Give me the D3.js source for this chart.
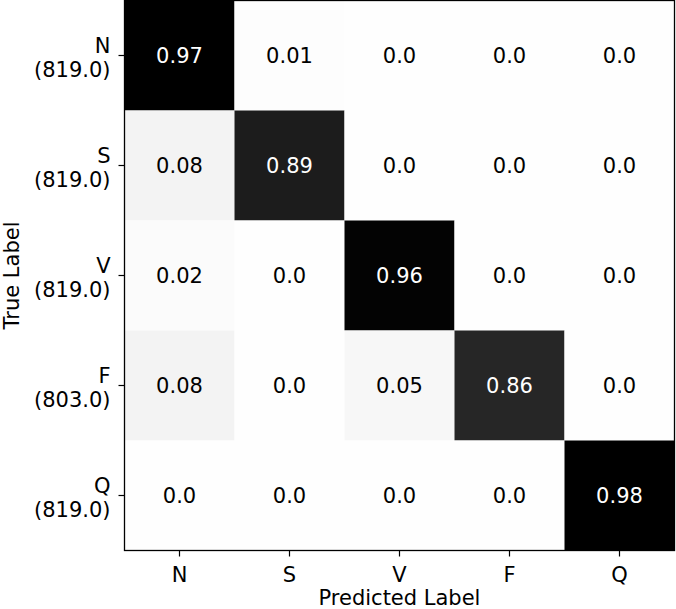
<!DOCTYPE html>
<html>
<head>
<meta charset="utf-8">
<script src="https://cdn.jsdelivr.net/npm/d3@7"></script>
<style>
  body { margin: 0; background: #fff; }
  svg { display: block; }
  svg text { font-family: "DejaVu Sans", sans-serif; }
</style>
</head>
<body>
<svg id="cm" width="676" height="609"></svg>
<script>
// confusion matrix - row normalized
const classes = ["N", "S", "V", "F", "Q"];
const rowTotals = [819.0, 819.0, 819.0, 803.0, 819.0];
const matrix = [
  [0.97, 0.01, 0.0, 0.0, 0.0],
  [0.08, 0.89, 0.0, 0.0, 0.0],
  [0.02, 0.0, 0.96, 0.0, 0.0],
  [0.08, 0.0, 0.05, 0.86, 0.0],
  [0.0, 0.0, 0.0, 0.0, 0.98]
];

(function renderMatrix() {
  const svg = d3.select("#cm");
  const margin = { top: 0.5, left: 124.5 };
  const size = 550;
  const fs = 21;

  const x = d3.scaleBand().domain(classes).range([0, size]);
  const y = d3.scaleBand().domain(classes).range([0, size]);
  const color = d3.scaleLinear()
    .domain([0, 0.1, 0.86, 0.97])
    .range(["#fefefe", "#f0f0f0", "#262626", "#000000"])
    .clamp(true);

  const g = svg.append("g").attr("transform", `translate(${margin.left},${margin.top})`);

  const cells = [];
  matrix.forEach((row, i) => row.forEach((v, j) => cells.push({ r: classes[i], c: classes[j], v })));

  g.selectAll("rect.cell")
    .data(cells)
    .enter()
    .append("rect")
    .attr("class", "cell")
    .attr("x", d => x(d.c))
    .attr("y", d => y(d.r))
    .attr("width", x.bandwidth())
    .attr("height", y.bandwidth())
    .attr("fill", d => color(d.v));

  g.selectAll("text.val")
    .data(cells)
    .enter()
    .append("text")
    .attr("class", "val")
    .attr("x", d => x(d.c) + x.bandwidth() / 2)
    .attr("y", d => y(d.r) + y.bandwidth() / 2)
    .attr("text-anchor", "middle")
    .attr("dy", "0.36em")
    .attr("font-size", fs)
    .attr("fill", d => d.v > 0.5 ? "#fff" : "#000")
    .text(d => Number.isInteger(d.v * 10) ? d.v.toFixed(1) : String(d.v));

  // frame
  g.append("rect")
    .attr("width", size)
    .attr("height", size)
    .attr("fill", "none")
    .attr("stroke", "#000")
    .attr("stroke-width", 1.3);

  // x axis
  const xAxis = g.append("g")
    .attr("transform", `translate(0,${size})`)
    .call(d3.axisBottom(x).tickSize(6).tickPadding(6));
  xAxis.select(".domain").remove();
  xAxis.selectAll("line").attr("stroke-width", 1.2);
  xAxis.selectAll("text").attr("font-size", fs).attr("fill", "#000").attr("dy", "0.95em");

  // y axis with two-line labels
  const yAxis = g.append("g")
    .call(d3.axisLeft(y).tickSize(6).tickFormat(""));
  yAxis.select(".domain").remove();
  yAxis.selectAll("line").attr("stroke-width", 1.2);
  yAxis.selectAll(".tick").each(function (d, i) {
    const t = d3.select(this).append("text")
      .attr("text-anchor", "end")
      .attr("font-size", fs)
      .attr("fill", "#000");
    t.append("tspan").attr("x", -14).attr("y", -3).text(d);
    t.append("tspan").attr("x", -14).attr("y", 21).text(`(${rowTotals[i].toFixed(1)})`);
  });

  svg.append("text")
    .attr("x", margin.left + size / 2)
    .attr("y", 605)
    .attr("text-anchor", "middle")
    .attr("font-size", fs)
    .text("Predicted Label");

  svg.append("text")
    .attr("transform", `translate(19,${margin.top + size / 2}) rotate(-90)`)
    .attr("text-anchor", "middle")
    .attr("font-size", fs)
    .text("True Label");
})();
</script>
</body>
</html>
